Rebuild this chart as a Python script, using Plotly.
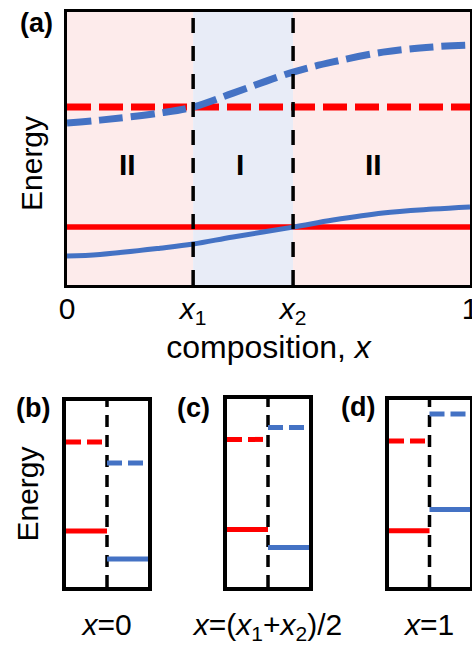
import plotly.graph_objects as go

W, H = 472, 645

# ---------------- data (panel a) ----------------
comp_x = [0.0, 0.082, 0.231, 0.313, 0.412, 0.561, 0.660, 0.784, 0.908, 1.0]
blue_dashed = [0.593, 0.604, 0.630, 0.652, 0.703, 0.780, 0.817, 0.853, 0.872, 0.879]
blue_solid = [0.106, 0.112, 0.135, 0.150, 0.176, 0.212, 0.238, 0.264, 0.278, 0.286]
red_dashed_level = 0.652
red_solid_level = 0.212
x1_pos, x2_pos = 0.313, 0.561
region_labels = ["II", "I", "II"]
region_centers = [0.150, 0.430, 0.760]
tick_vals = [0, x1_pos, x2_pos, 1]
tick_text = ["0", "<i>x</i><sub>1</sub>", "<i>x</i><sub>2</sub>", "1"]

# ---------------- data (panels b, c, d) ----------------
inset_tags = ["(b)", "(c)", "(d)"]
inset_titles = ["<i>x</i>=0", "<i>x</i>=(<i>x</i><sub>1</sub>+<i>x</i><sub>2</sub>)/2", "<i>x</i>=1"]
inset_red_dashed = [0.780, 0.785, 0.781]
inset_blue_dashed = [0.667, 0.849, 0.925]
inset_red_solid = [0.301, 0.306, 0.301]
inset_blue_solid = [0.151, 0.210, 0.414]

RED = "#FF0000"
BLUE = "#4472C4"
PINK = "#FDEBEB"
LBLUE = "#E8ECF7"
FONT = "Liberation Sans, Arial, sans-serif"
TXT = 30

def px_x(p):
    return p / W

def px_y(p):
    return 1 - p / H

fig = go.Figure()

# ---- panel a traces ----
fig.add_trace(go.Scatter(x=[0, 1], y=[red_solid_level] * 2, mode="lines",
                         line=dict(color=RED, width=5.5), xaxis="x", yaxis="y"))
fig.add_trace(go.Scatter(x=comp_x, y=blue_solid, mode="lines",
                         line=dict(color=BLUE, width=5, shape="spline"), xaxis="x", yaxis="y"))
fig.add_trace(go.Scatter(x=[0, 1], y=[red_dashed_level] * 2, mode="lines",
                         line=dict(color=RED, width=7, dash="24px,8px"), xaxis="x", yaxis="y"))
fig.add_trace(go.Scatter(x=comp_x, y=blue_dashed, mode="lines",
                         line=dict(color=BLUE, width=7, dash="24px,8px", shape="spline"),
                         xaxis="x", yaxis="y"))
for xv in [x1_pos, x2_pos]:
    fig.add_trace(go.Scatter(x=[xv, xv], y=[0, 1], mode="lines",
                             line=dict(color="black", width=3.5, dash="15px,13px"),
                             xaxis="x", yaxis="y"))

shapes = [
    dict(type="rect", xref="x", yref="y domain", x0=0, x1=x1_pos, y0=0, y1=1,
         fillcolor=PINK, line=dict(width=0), layer="below"),
    dict(type="rect", xref="x", yref="y domain", x0=x1_pos, x1=x2_pos, y0=0, y1=1,
         fillcolor=LBLUE, line=dict(width=0), layer="below"),
    dict(type="rect", xref="x", yref="y domain", x0=x2_pos, x1=1, y0=0, y1=1,
         fillcolor=PINK, line=dict(width=0), layer="below"),
]

annotations = []
for lab, cx in zip(region_labels, region_centers):
    annotations.append(dict(text=f"<b>{lab}</b>", x=cx, y=0.44, xref="x", yref="y",
                            xanchor="center", yanchor="middle",
                            showarrow=False, font=dict(size=30, color="black", family=FONT)))
annotations.append(dict(text="<b>(a)</b>", x=px_x(36), y=px_y(23), xref="paper", yref="paper",
                        xanchor="center", yanchor="middle",
                        showarrow=False, font=dict(size=27, color="black", family=FONT)))
# y label of panel (a), drawn a little below the axis centre as in the original
annotations.append(dict(text="Energy", x=px_x(31), y=px_y(164), xref="paper", yref="paper",
                        xanchor="center", yanchor="middle", textangle=-90,
                        showarrow=False, font=dict(size=TXT, color="black", family=FONT)))

axis_common = dict(showgrid=False, zeroline=False, showline=True, linecolor="black",
                   mirror=True, fixedrange=True, automargin=False)

layout = dict(
    width=W, height=H, margin=dict(l=0, r=0, t=0, b=0, autoexpand=False),
    paper_bgcolor="white", plot_bgcolor="white", showlegend=False,
    font=dict(family=FONT, color="black"),
    xaxis=dict(domain=[px_x(67), px_x(470)], range=[0, 1], linewidth=3,
               tickvals=tick_vals, ticktext=tick_text, ticks="",
               ticklabeloverflow="allow", ticklabelstandoff=-5,
               tickfont=dict(size=TXT, family=FONT),
               title=dict(text="composition, <i>x</i>", font=dict(size=32, family=FONT), standoff=2),
               anchor="y", **axis_common),
    yaxis=dict(domain=[px_y(285), px_y(12)], range=[0, 1], linewidth=3,
               showticklabels=False, ticks="",
               anchor="x", **axis_common),
)

# ---- insets ----
inset_x_dom = [(66, 148), (227, 309), (389, 470)]
inset_y_dom = [(401, 587), (399, 587), (400, 587)]
tag_pos = [(33, 408), (193, 408), (358, 407)]
for i in range(3):
    xa = f"x{i + 2}"
    ya = f"y{i + 2}"
    fig.add_trace(go.Scatter(x=[0.5, 0.5], y=[0, 1], mode="lines",
                             line=dict(color="black", width=3.5, dash="12px,8px"),
                             xaxis=xa, yaxis=ya))
    fig.add_trace(go.Scatter(x=[0, 0.5], y=[inset_red_dashed[i]] * 2, mode="lines",
                             line=dict(color=RED, width=5, dash="15px,6px"), xaxis=xa, yaxis=ya))
    fig.add_trace(go.Scatter(x=[0, 0.5], y=[inset_red_solid[i]] * 2, mode="lines",
                             line=dict(color=RED, width=5), xaxis=xa, yaxis=ya))
    fig.add_trace(go.Scatter(x=[0.5, 1], y=[inset_blue_dashed[i]] * 2, mode="lines",
                             line=dict(color=BLUE, width=5, dash="15px,6px"), xaxis=xa, yaxis=ya))
    fig.add_trace(go.Scatter(x=[0.5, 1], y=[inset_blue_solid[i]] * 2, mode="lines",
                             line=dict(color=BLUE, width=5), xaxis=xa, yaxis=ya))
    x0, x1 = inset_x_dom[i]
    y0, y1 = inset_y_dom[i]
    layout[f"xaxis{i + 2}"] = dict(domain=[px_x(x0), px_x(x1)], range=[0, 1], linewidth=4,
                                   showticklabels=False, ticks="", anchor=ya,
                                   title=dict(text=inset_titles[i], font=dict(size=TXT, family=FONT),
                                              standoff=25),
                                   **axis_common)
    ydict = dict(domain=[px_y(y1), px_y(y0)], range=[0, 1], linewidth=4,
                 showticklabels=False, ticks="", anchor=xa, **axis_common)
    if i == 0:
        ydict["title"] = dict(text="Energy", font=dict(size=TXT, family=FONT), standoff=16)
    layout[f"yaxis{i + 2}"] = ydict
    annotations.append(dict(text=f"<b>{inset_tags[i]}</b>", x=px_x(tag_pos[i][0]), y=px_y(tag_pos[i][1]),
                            xref="paper", yref="paper", showarrow=False,
                            xanchor="center", yanchor="middle",
                            font=dict(size=27, color="black", family=FONT)))

layout["shapes"] = shapes
layout["annotations"] = annotations
fig.update_layout(**layout)
fig.write_html("out.html")
